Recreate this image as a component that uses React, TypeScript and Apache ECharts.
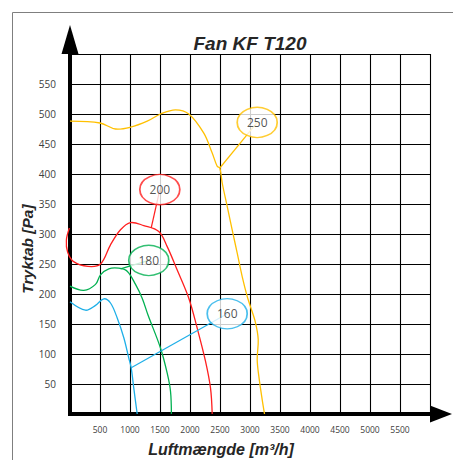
import React, { useEffect, useRef } from "react";
import * as echarts from "echarts";

// Fan curves: airflow [m3/h] and pressure [Pa]
const flow250 = [0, 500, 758, 1008, 1287, 1508, 1758, 1980, 2230, 2370, 2453, 2497, 2537, 2620, 2703, 2787, 2870, 2953, 3008, 3092, 3137, 3120, 3147, 3203, 3242];
const pres250 = [488, 485, 475, 478, 488, 500, 507, 500, 468, 435, 413, 410, 385, 346, 307, 268, 229, 196, 179, 152, 124, 91, 63, 24, 0];

const flow200 = [-10, -60, -40, 60, 300, 508, 675, 842, 1008, 1230, 1480, 1620, 1787, 1980, 2120, 2258, 2342, 2370];
const pres200 = [310, 290, 270, 254, 246, 250, 282, 307, 319, 314, 304, 279, 240, 193, 143, 88, 43, 0];

const flow180 = [0, 230, 425, 508, 647, 813, 953, 1092, 1203, 1300, 1508, 1620, 1675, 1690];
const pres180 = [213, 206, 216, 232, 242, 243, 238, 216, 193, 165, 110, 68, 38, 0];

const flow160 = [0, 258, 425, 563, 675, 787, 897, 980, 1020, 1063, 1120];
const pres160 = [187, 173, 181, 192, 185, 160, 127, 93, 77, 43, 0];

// Curve labels (ellipse callouts): text, position, anchor on curve
const labelTexts = ["250", "200", "180", "160"];
const labelFlow = [3120, 1497, 1313, 2620];
const labelPres = [486, 374, 256, 167];
const anchorFlow = [2497, 1353, 842, 1020];
const anchorPres = [410, 310, 242, 77];
const curveColors = ["#FFC000", "#FF1F1F", "#00B050", "#1EAFE8"];

const xMin = 0;
const xMax = 6000;
const xStep = 500;
const yMin = 0;
const yMax = 600;
const yStep = 50;

const title = "Fan KF T120";
const xTitle = "Luftmængde [m³/h]";
const yTitle = "Tryktab [Pa]";

function zip(xs: number[], ys: number[]) {
  return xs.map((x, i) => [x, ys[i]]);
}

export default function App() {
  const ref = useRef<HTMLDivElement>(null);
  useEffect(() => {
    document.body.style.margin = "0";
    if (!ref.current) return;
    const chart = echarts.init(ref.current, undefined, { renderer: "svg" });
    const curves = [
      zip(flow250, pres250),
      zip(flow200, pres200),
      zip(flow180, pres180),
      zip(flow160, pres160),
    ];
    // each curve drawn as a smooth polyline through the axis scales (no clipping)
    const curveSeries = curves.map((d, i) => ({
      type: "custom",
      clip: false,
      z: 6,
      data: d,
      encode: { x: 0, y: 1 },
      renderItem: (params: any, api: any) => {
        if (params.dataIndex !== 0) return null;
        const pts = d.map((p) => api.coord(p));
        return {
          type: "polyline",
          shape: { points: pts, smooth: 0.35 },
          style: { stroke: curveColors[i], lineWidth: 1.3, fill: "none" },
          silent: true,
        };
      },
    }));
    const leaderSeries = labelTexts.map((_, i) => ({
      type: "line",
      data: [
        [anchorFlow[i], anchorPres[i]],
        [labelFlow[i], labelPres[i]],
      ],
      symbol: "none",
      clip: false,
      lineStyle: { color: curveColors[i], width: 1.2 },
      z: 6,
    }));
    const bubbleSeries = {
      type: "scatter",
      symbol: "circle",
      symbolSize: [40, 30],
      clip: false,
      z: 8,
      data: labelTexts.map((t, i) => ({
        value: [labelFlow[i], labelPres[i]],
        name: t,
        itemStyle: { color: "#ffffff", borderColor: curveColors[i], borderWidth: 1.5 },
      })),
      label: {
        show: true,
        position: "inside",
        formatter: (p: any) => p.name,
        fontFamily: "Open Sans",
        fontSize: 12,
        color: "#262626",
        textBorderWidth: 0,
      },
    };

    const axisLineStyle = { color: "#000000", width: 4, cap: "square" };
    chart.setOption({
      animation: false,
      backgroundColor: "#ffffff",
      grid: { left: 70, top: 54, width: 360, height: 360, containLabel: false },
      xAxis: {
        type: "value",
        min: xMin,
        max: xMax,
        interval: xStep,
        z: 1,
        axisLine: {
          show: true,
          lineStyle: axisLineStyle,
          symbol: ["none", "triangle"],
          symbolSize: [17, 22],
          symbolOffset: [0, 11],
        },
        axisTick: { show: false },
        axisLabel: {
          showMinLabel: false,
          showMaxLabel: false,
          formatter: (v: number) => String(v),
          fontFamily: "Open Sans",
          fontSize: 8.5,
          color: "#404040",
          margin: 11,
        },
        splitLine: { show: true, lineStyle: { color: "#000000", width: 1.1 } },
      },
      yAxis: {
        type: "value",
        min: yMin,
        max: yMax,
        interval: yStep,
        z: 1,
        axisLine: {
          show: true,
          lineStyle: axisLineStyle,
          symbol: ["none", "triangle"],
          symbolSize: [17, 29],
          symbolOffset: [0, 14.5],
        },
        axisTick: { show: false },
        axisLabel: {
          showMinLabel: false,
          showMaxLabel: false,
          formatter: (v: number) => String(v),
          fontFamily: "Open Sans",
          fontSize: 10,
          color: "#404040",
          margin: 14,
        },
        splitLine: { show: true, lineStyle: { color: "#000000", width: 1.1 } },
      },
      graphic: [
        {
          type: "rect",
          shape: { x: 12.5, y: 12.5, width: 600, height: 600 },
          style: { fill: "none", stroke: "#7f7f7f", lineWidth: 1 },
          z: 0,
          silent: true,
        },
        {
          type: "text",
          x: 250,
          y: 43,
          style: {
            text: title,
            fontFamily: "Liberation Sans",
            fontSize: 19,
            fontWeight: "bold",
            fontStyle: "italic",
            fill: "#262626",
            align: "center",
            verticalAlign: "middle",
          },
        },
        {
          type: "text",
          x: 221,
          y: 449,
          style: {
            text: xTitle,
            fontFamily: "Liberation Sans",
            fontSize: 16,
            fontWeight: "bold",
            fontStyle: "italic",
            fill: "#262626",
            align: "center",
            verticalAlign: "middle",
          },
        },
        {
          type: "text",
          x: 27,
          y: 249,
          rotation: Math.PI / 2,
          style: {
            text: yTitle,
            fontFamily: "Liberation Sans",
            fontSize: 15.5,
            fontWeight: "bold",
            fontStyle: "italic",
            fill: "#262626",
            align: "center",
            verticalAlign: "middle",
          },
        },
      ],
      series: [...curveSeries, ...leaderSeries, bubbleSeries],
    });
    return () => chart.dispose();
  }, []);
  return <div ref={ref} style={{ width: 453, height: 460 }} />;
}
